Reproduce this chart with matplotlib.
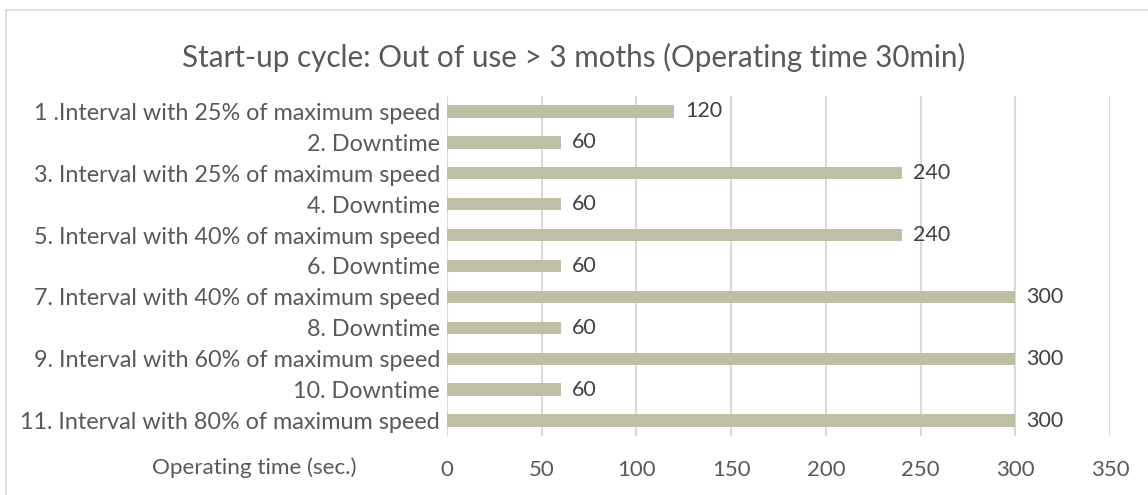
import matplotlib
matplotlib.use('Agg')
import matplotlib.pyplot as plt
from matplotlib.patches import Rectangle

# Start-up cycle steps and their durations in seconds
steps = [
    "1 .Interval with 25% of maximum speed",
    "2. Downtime",
    "3. Interval with 25% of maximum speed",
    "4. Downtime",
    "5. Interval with 40% of maximum speed",
    "6. Downtime",
    "7. Interval with 40% of maximum speed",
    "8. Downtime",
    "9. Interval with 60% of maximum speed",
    "10. Downtime",
    "11. Interval with 80% of maximum speed",
]
durations = [120, 60, 240, 60, 240, 60, 300, 60, 300, 60, 300]
x_ticks = [0, 50, 100, 150, 200, 250, 300, 350]

TITLE = "Start-up cycle: Out of use > 3 moths (Operating time 30min)"
XLABEL = "Operating time (sec.)"

BAR_COLOR = '#BFBFA6'
GRID_COLOR = '#D9D9D9'
TEXT_COLOR = '#595959'
LABEL_COLOR = '#404040'

plt.rcParams['font.family'] = ['Lato', 'DejaVu Sans']

fig = plt.figure(figsize=(11.48, 4.95), dpi=100)
fig.patch.set_facecolor('white')

# chart frame (open on the right and bottom)
fig.patches.append(Rectangle((6 / 1148, -0.1), 1.2, 1 - 10 / 495 + 0.1,
                             transform=fig.transFigure, fill=False,
                             edgecolor='#D9D9D9', linewidth=1.2))

ax = fig.add_axes([447 / 1148, 1 - 436 / 495, (1110 - 447) / 1148, (436 - 96) / 495])

y = list(range(len(steps)))
ax.barh(y, durations, height=0.4, color=BAR_COLOR, zorder=2)

for yi, v in zip(y, durations):
    ax.annotate(str(v), (v, yi), xytext=(8, 0), textcoords='offset points',
                va='center', ha='left', fontsize=15.5, color=LABEL_COLOR)

ax.set_xlim(0, 350)
ax.set_ylim(len(steps) - 0.5, -0.5)
ax.set_xticks(x_ticks)
ax.set_yticks(y)
ax.set_yticklabels(steps)
ax.tick_params(axis='both', length=0, colors=TEXT_COLOR)
ax.tick_params(axis='y', labelsize=16.8, pad=5)
ax.tick_params(axis='x', labelsize=16, pad=17)

ax.grid(axis='x', color=GRID_COLOR, linewidth=1.5, zorder=0)
for s in ax.spines.values():
    s.set_visible(False)

fig.text(0.5, 1 - 57 / 495, TITLE, ha='center', va='center',
         fontsize=21.3, color=TEXT_COLOR)
fig.text(357 / 1148, 1 - 468 / 495, XLABEL, ha='right', va='center',
         fontsize=16.2, color=TEXT_COLOR)

fig.savefig('out.png', dpi=100)
